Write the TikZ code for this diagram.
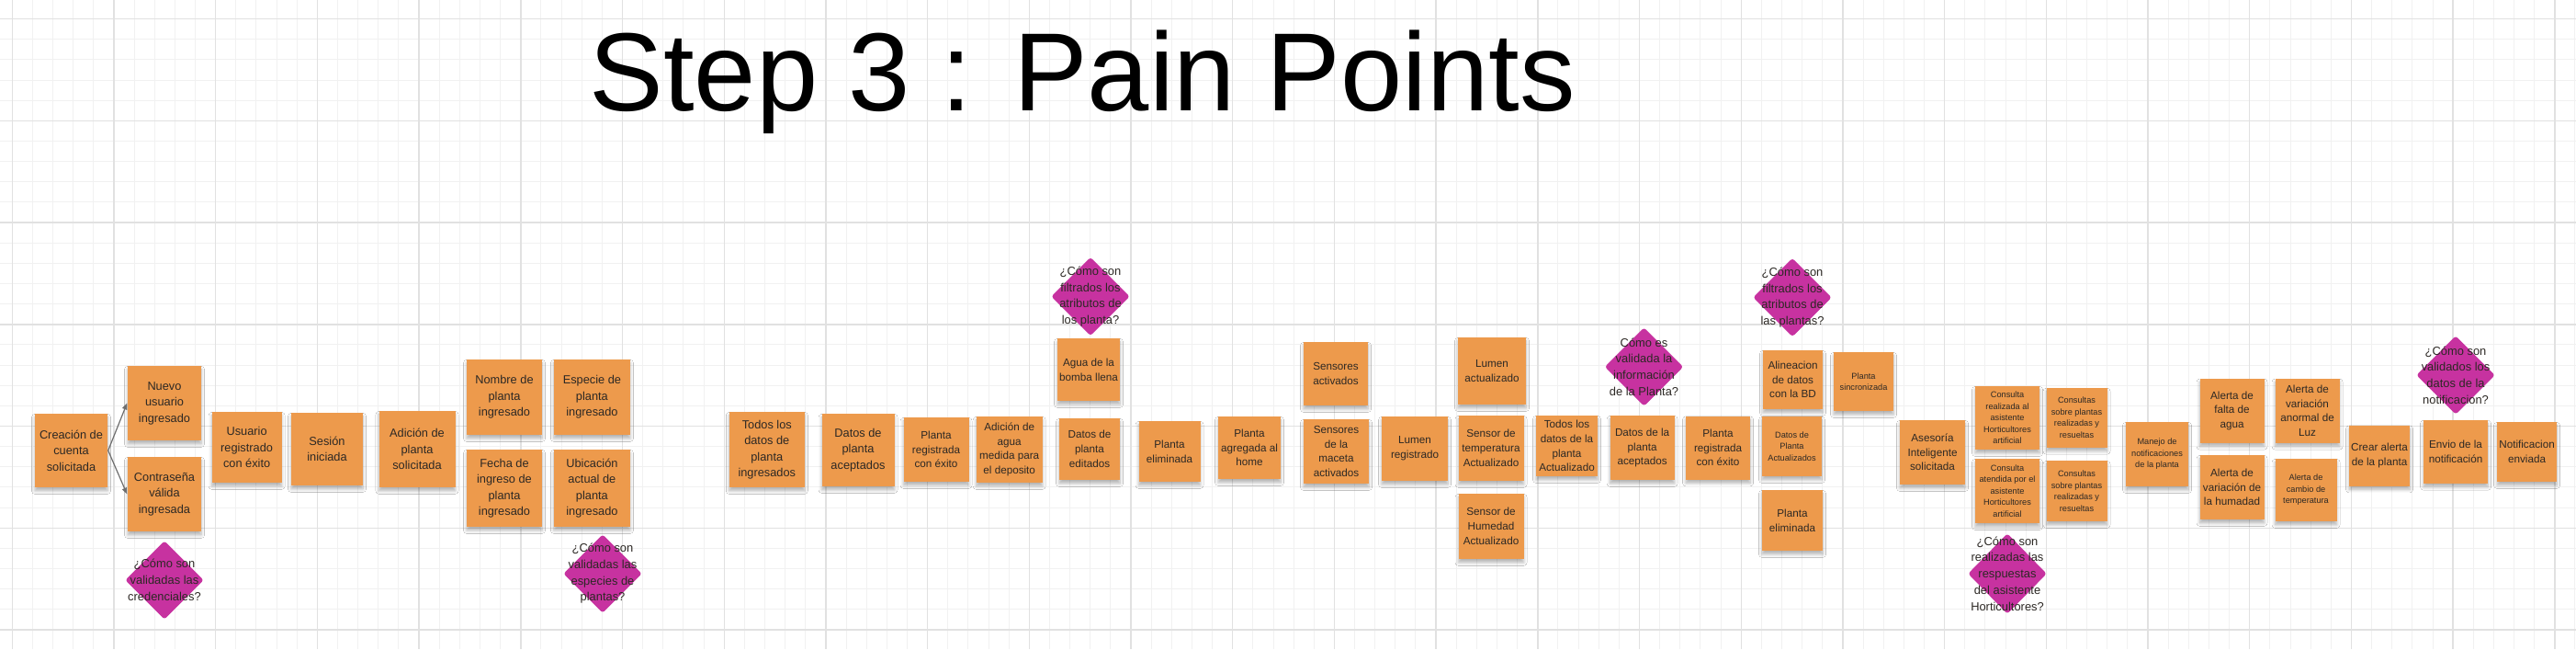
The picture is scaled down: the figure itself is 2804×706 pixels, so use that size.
\documentclass[tikz,border=0pt]{standalone}
\usepackage{fontspec}
\setmainfont{Liberation Sans}
\usetikzlibrary{shapes.geometric, arrows.meta, shadows.blur}

\definecolor{naranjanota}{RGB}{237,154,76}
\definecolor{dudacolor}{RGB}{199,50,160}
\definecolor{textonota}{RGB}{44,40,36}
\definecolor{rejillafina}{RGB}{241,241,241}
\definecolor{rejillagruesa}{RGB}{225,225,225}
\definecolor{flechagris}{RGB}{110,110,110}

\tikzset{
    rejilla/.style={draw=rejillafina, line width=0.1mm},
    rejillamayor/.style={draw=rejillagruesa, line width=0.14mm},
    nota/.style={rectangle, fill=naranjanota, text=textonota, align=center, inner sep=0pt,
        blur shadow={shadow xshift=0pt, shadow yshift=-1.1pt, shadow opacity=30, shadow blur radius=1pt, shadow blur steps=6}},
    caja/.style n args={2}{minimum width=#1*0.1mm, minimum height=#2*0.1mm},
    letraA/.style={font=\fontsize{3.64}{4.98}\selectfont},
    letraB/.style={font=\fontsize{3.33}{4.47}\selectfont},
    letraC/.style={font=\fontsize{2.62}{3.56}\selectfont},
    duda/.style={diamond, fill=dudacolor, inner sep=0pt, rounded corners=0.3mm,
        minimum width=8.6mm, minimum height=8.6mm},
    dudatexto/.style={text=textonota, align=center, inner sep=0pt, font=\fontsize{3.67}{5.04}\selectfont},
    flecha/.style={draw=flechagris, line width=0.12mm, -{Triangle[length=0.7mm, width=0.55mm]}}
}

\begin{document}
\begin{tikzpicture}[x=0.1mm, y=-0.1mm]
    \useasboundingbox (0,0) rectangle (2804,706);
    \fill[white] (0,0) rectangle (2804,706);
    \foreach \k in {0,...,126} \draw[rejilla] ({13.3+22.14*\k},0) -- ({13.3+22.14*\k},706);
    \foreach \k in {0,...,30} \draw[rejilla] (0,{20.7+22.14*\k}) -- (2804,{20.7+22.14*\k});
    \foreach \k in {0,...,25} \draw[rejillamayor] ({13.3+110.7*\k},0) -- ({13.3+110.7*\k},706);
    \foreach \k in {0,...,6} \draw[rejillamayor] (0,{20.7+110.7*\k}) -- (2804,{20.7+110.7*\k});

    \node[anchor=base west, inner sep=0pt, font=\fontsize{34.4}{41}\selectfont] (titulo) at (641,120) {Step 3 : Pain Points};

    \node[nota, letraA, caja={79}{80}] (cre) at (77.5,490) {Creación de\\cuenta\\solicitada};
    \node[nota, letraA, caja={80}{81}] (nuevo) at (179,438.5) {Nuevo\\usuario\\ingresado};
    \node[nota, letraA, caja={80}{81}] (contra) at (179,537.5) {Contraseña\\válida\\ingresada};
    \node[nota, letraA, caja={76}{77}] (usuario) at (268.6,486.5) {Usuario\\registrado\\con éxito};
    \node[nota, letraA, caja={78}{79}] (sesion) at (356,488.5) {Sesión\\iniciada};
    \node[nota, letraA, caja={83}{83}] (adicion) at (454,488.5) {Adición de\\planta\\solicitada};
    \node[nota, letraA, caja={82}{82}] (nombre) at (549,432) {Nombre de\\planta\\ingresado};
    \node[nota, letraA, caja={83}{82}] (especie) at (644.4,432) {Especie de\\planta\\ingresado};
    \node[nota, letraA, caja={82}{84}] (fecha) at (549,531) {Fecha de\\ingreso de\\planta\\ingresado};
    \node[nota, letraA, caja={83}{84}] (ubica) at (644.4,531) {Ubicación\\actual de\\planta\\ingresado};

    \draw[flecha] (cre.east) -- (nuevo.west);
    \draw[flecha] (cre.east) -- (contra.west);

    \node[duda] (dcred) at (179,631) {};
    \node[dudatexto] (dcredt) at (dcred) {¿Cómo son\\validadas las\\credenciales?};
    \node[duda] (despecie) at (656,624) {};
    \node[dudatexto] (despeciet) at (despecie) {¿Cómo son\\validadas las\\especies de\\plantas?};

    \node[nota, letraA, caja={82}{82}] (todos) at (834.8,489) {Todos los\\datos de\\planta\\ingresados};
    \node[nota, letraA, caja={79}{79}] (acept) at (934,489.5) {Datos de\\planta\\aceptados};
    \node[nota, letraB, caja={71}{70}] (regis) at (1019,489) {Planta\\registrada\\con éxito};
    \node[nota, letraB, caja={72}{72}] (agua) at (1098.7,489) {Adición de\\agua\\medida para\\el deposito};
    \node[nota, letraB, caja={66}{67}] (editados) at (1186,488.5) {Datos de\\planta\\editados};
    \node[nota, letraB, caja={68}{68}] (bomba) at (1185,402) {Agua de la\\bomba llena};
    \node[nota, letraB, caja={67}{66}] (elim) at (1273,491) {Planta\\eliminada};
    \node[nota, letraB, caja={68}{68}] (home) at (1360,487) {Planta\\agregada al\\home};
    \node[nota, letraB, caja={70}{69}] (sensact) at (1454,406.5) {Sensores\\activados};
    \node[nota, letraB, caja={71}{70}] (sensmac) at (1454.5,491) {Sensores\\de la\\maceta\\activados};
    \node[nota, letraB, caja={72}{70}] (lumreg) at (1540,488) {Lumen\\registrado};
    \node[nota, letraB, caja={74}{73}] (lumact) at (1624,403.5) {Lumen\\actualizado};
    \node[nota, letraB, caja={71}{71}] (senstemp) at (1623,487.5) {Sensor de\\temperatura\\Actualizado};
    \node[nota, letraB, caja={71}{71}] (senshum) at (1623,572.5) {Sensor de\\Humedad\\Actualizado};
    \node[nota, letraB, caja={67}{66}] (todosact) at (1705.5,485) {Todos los\\datos de la\\planta\\Actualizado};
    \node[nota, letraB, caja={70}{70}] (acept2) at (1787.6,487) {Datos de la\\planta\\aceptados};
    \node[nota, letraB, caja={70}{69}] (regis2) at (1870,487) {Planta\\registrada\\con éxito};

    \node[duda] (dfiltro) at (1187,322.5) {};
    \node[dudatexto] (dfiltrot) at (dfiltro) {¿Cómo son\\filtrados los\\atributos de\\los planta?};
    \node[duda] (dvalinfo) at (1789.5,399) {};
    \node[dudatexto] (dvalinfot) at (dvalinfo) {Cómo es\\validada la\\información\\de la Planta?};

    \node[nota, letraB, caja={65}{64}] (alinea) at (1951.5,413) {Alineacion\\de datos\\con la BD};
    \node[nota, letraC, caja={65}{65}] (datosact) at (1950.5,485.5) {Datos de\\Planta\\Actualizados};
    \node[nota, letraB, caja={66}{66}] (elim2) at (1951,566) {Planta\\eliminada};
    \node[nota, letraC, caja={65}{64}] (sincro) at (2028.5,415) {Planta\\sincronizada};
    \node[nota, letraB, caja={71}{70}] (aseso) at (2103.5,492) {Asesoría\\Inteligente\\solicitada};
    \node[nota, letraC, caja={70}{69}] (consreal) at (2185,454.5) {Consulta\\realizada al\\asistente\\Horticultores\\artificial};
    \node[nota, letraC, caja={70}{70}] (consaten) at (2185,534) {Consulta\\atendida por el\\asistente\\Horticultores\\artificial};
    \node[nota, letraC, caja={66}{65}] (consres) at (2260.5,454.3) {Consultas\\sobre plantas\\realizadas y\\resueltas};
    \node[nota, letraC, caja={66}{66}] (consres2) at (2260.5,534) {Consultas\\sobre plantas\\realizadas y\\resueltas};

    \node[duda] (dfiltro2) at (1951,323.5) {};
    \node[dudatexto] (dfiltro2t) at (dfiltro2) {¿Cómo son\\filtrados los\\atributos de\\las plantas?};
    \node[duda, minimum height=8.8mm] (dresp) at (2185,624) {};
    \node[dudatexto] (drespt) at (dresp) {¿Cómo son\\realizadas las\\respuestas\\del asistente\\Horticultores?};

    \node[nota, letraC, caja={68}{70}] (manejo) at (2348,494) {Manejo de\\notificaciones\\de la planta};
    \node[nota, letraB, caja={70}{70}] (falta) at (2429.5,446.7) {Alerta de\\falta de\\agua};
    \node[nota, letraB, caja={70}{70}] (humad) at (2429.5,530) {Alerta de\\variación de\\la humadad};
    \node[nota, letraB, caja={70}{70}] (luz) at (2511.5,446.7) {Alerta de\\variación\\anormal de\\Luz};
    \node[nota, letraC, caja={67}{68}] (temp) at (2510,533) {Alerta de\\cambio de\\temperatura};
    \node[nota, letraB, caja={66}{66}] (crear) at (2590,495.5) {Crear alerta\\de la planta};
    \node[nota, letraB, caja={70}{69}] (envio) at (2673,491.3) {Envio de la\\notificación};
    \node[nota, letraB, caja={65}{65}] (notif) at (2750.5,491.5) {Notificacion\\enviada};

    \node[duda] (dnotif) at (2673,408) {};
    \node[dudatexto] (dnotift) at (dnotif) {¿Cómo son\\validados los\\datos de la\\notificacion?};
\end{tikzpicture}
\end{document}
